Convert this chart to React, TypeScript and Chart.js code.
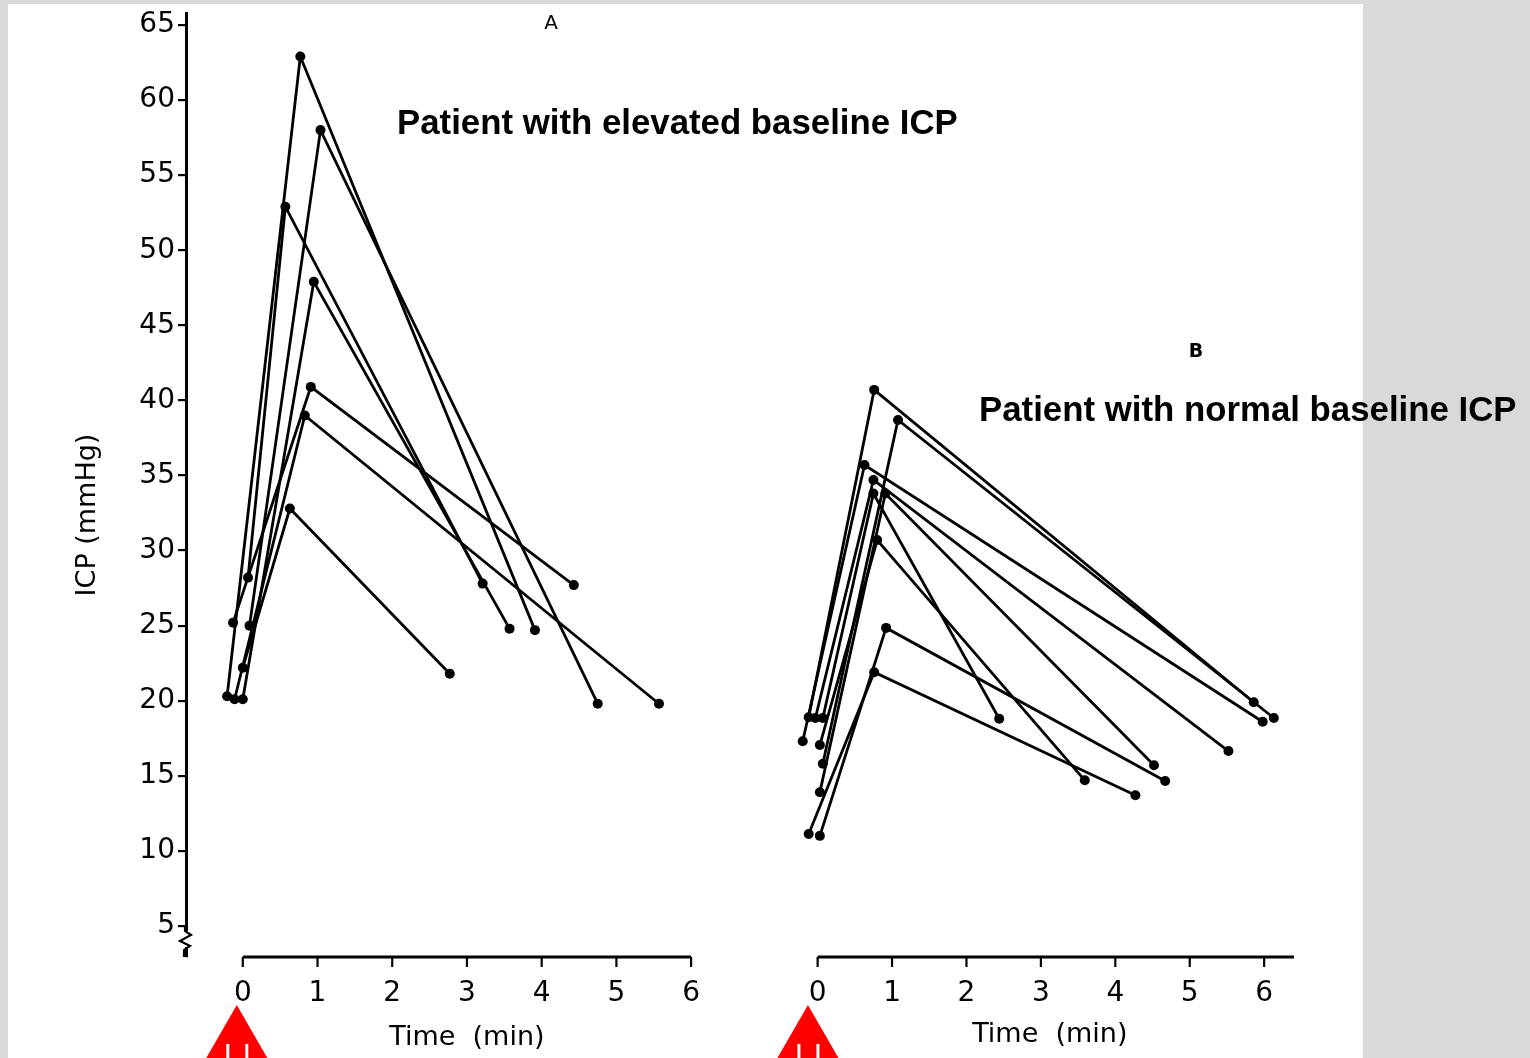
import React, { useEffect, useRef } from 'react';
import { Chart, registerables } from 'chart.js';

Chart.register(...registerables);

// ---------- data ----------
const yTicks = [5, 10, 15, 20, 25, 30, 35, 40, 45, 50, 55, 60, 65];
const xTicks = [0, 1, 2, 3, 4, 5, 6];
const xTickLabels = ['0', '1', '2', '3', '4', '5', '6'];

// Panel A: elevated baseline ICP (baseline, peak, recovery) per patient
const timesA = [
  [-0.21, 0.77, 3.91],
  [0.09, 1.04, 4.75],
  [0.07, 0.57, 3.21],
  [0.0, 0.95, 3.57],
  [-0.13, 0.91, 4.43],
  [-0.11, 0.83, 5.57],
  [0.0, 0.63, 2.77],
];
const icpA = [
  [20.3, 62.9, 24.7],
  [25.0, 58.0, 19.8],
  [28.2, 52.9, 27.8],
  [20.1, 47.9, 24.8],
  [25.2, 40.9, 27.7],
  [20.1, 39.0, 19.8],
  [22.2, 32.8, 21.8],
];

// Panel B: normal baseline ICP
const timesB = [
  [-0.12, 0.76, 5.86],
  [0.07, 1.08, 6.13],
  [-0.2, 0.63, 5.98],
  [-0.03, 0.75, 5.52],
  [0.03, 0.91, 4.52],
  [0.07, 0.75, 2.44],
  [0.03, 0.8, 3.59],
  [0.03, 0.92, 4.67],
  [-0.12, 0.76, 4.27],
];
const icpB = [
  [18.9, 40.7, 19.9],
  [15.8, 38.7, 18.85],
  [17.3, 35.7, 18.6],
  [18.85, 34.7, 16.65],
  [13.9, 33.8, 15.7],
  [18.85, 33.8, 18.8],
  [17.05, 30.7, 14.7],
  [11.0, 24.85, 14.65],
  [11.13, 21.9, 13.7],
];

const panelLabelA = 'A';
const panelLabelB = 'B';
const titleA = 'Patient with elevated baseline ICP';
const titleB = 'Patient with normal baseline ICP';
const yTitle = 'ICP (mmHg)';
const xTitle = 'Time  (min)';
const arrowTimeA = -0.08;
const arrowTimeB = -0.13;

const FONT = '"Liberation Sans", Arial, Helvetica, sans-serif';
const AXFONT = '"DejaVu Sans", Verdana, sans-serif';

const customPlugin = {
  id: 'customDecor',
  beforeDraw(chart: any) {
    const ctx = chart.ctx;
    ctx.save();
    ctx.fillStyle = '#d9d9d9';
    ctx.fillRect(0, 0, chart.width, chart.height);
    ctx.fillStyle = '#ffffff';
    ctx.fillRect(8, 4, 1355, chart.height - 4);
    ctx.restore();
  },
  afterDraw(chart: any) {
    const ctx = chart.ctx;
    const xA = chart.scales.xA;
    const xB = chart.scales.xB;
    const axisY = 957;
    ctx.save();
    ctx.strokeStyle = '#000';
    ctx.fillStyle = '#000';
    ctx.lineCap = 'butt';

    const drawAxis = (scale: any, from: number, to: number, titleAt: number, titleY: number) => {
      ctx.lineWidth = 3;
      ctx.beginPath();
      ctx.moveTo(scale.getPixelForValue(from), axisY);
      ctx.lineTo(scale.getPixelForValue(to), axisY);
      ctx.stroke();
      ctx.lineWidth = 2.2;
      xTicks.forEach((t) => {
        const px = scale.getPixelForValue(t);
        ctx.beginPath();
        ctx.moveTo(px, axisY);
        ctx.lineTo(px, axisY + 10);
        ctx.stroke();
      });
      ctx.font = `28px ${AXFONT}`;
      ctx.textAlign = 'center';
      ctx.textBaseline = 'middle';
      xTicks.forEach((t, i) => {
        ctx.fillText(xTickLabels[i], scale.getPixelForValue(t), 994);
      });
      ctx.font = `27px ${AXFONT}`;
      ctx.fillText(xTitle, scale.getPixelForValue(titleAt), titleY);
    };
    drawAxis(xA, 0, 6, 3.0, 1038);
    drawAxis(xB, 0, 6.4, 3.12, 1035);

    // y-axis break mark
    const yx = chart.scales.y.right;
    ctx.fillStyle = '#fff';
    ctx.fillRect(yx - 3, 931, 6, 16);
    ctx.strokeStyle = '#000';
    ctx.lineWidth = 2.2;
    ctx.beginPath();
    ctx.moveTo(yx - 1, 926);
    ctx.lineTo(yx - 1, 931);
    ctx.lineTo(yx + 5, 935);
    ctx.lineTo(yx - 6, 941);
    ctx.lineTo(yx + 4, 946);
    ctx.lineTo(yx - 2, 950);
    ctx.lineTo(yx - 2, 957);
    ctx.stroke();

    // y-axis title
    ctx.save();
    ctx.fillStyle = '#000';
    ctx.translate(88, 515);
    ctx.rotate(-Math.PI / 2);
    ctx.font = `27px ${AXFONT}`;
    ctx.textAlign = 'center';
    ctx.textBaseline = 'middle';
    ctx.fillText(yTitle, 0, 0);
    ctx.restore();

    // panel letters
    ctx.fillStyle = '#000';
    ctx.textAlign = 'center';
    ctx.textBaseline = 'middle';
    ctx.font = `20px ${AXFONT}`;
    ctx.fillText(panelLabelA, 551, 24);
    ctx.font = `bold 19px ${AXFONT}`;
    ctx.fillText(panelLabelB, 1196, 352);

    // annotation titles
    ctx.font = `bold 34.8px ${FONT}`;
    ctx.textAlign = 'left';
    ctx.fillText(titleA, 397, 124);
    ctx.fillText(titleB, 979, 411);

    // red arrows
    const drawArrow = (cx: number) => {
      ctx.fillStyle = '#ff0000';
      ctx.beginPath();
      ctx.moveTo(cx, 1005);
      ctx.lineTo(cx - 34, 1064);
      ctx.lineTo(cx + 34, 1064);
      ctx.closePath();
      ctx.fill();
      ctx.strokeStyle = '#ffffff';
      ctx.lineWidth = 3;
      ctx.beginPath();
      ctx.moveTo(cx - 9, 1044);
      ctx.lineTo(cx - 9, 1060);
      ctx.moveTo(cx + 10, 1044);
      ctx.lineTo(cx + 10, 1060);
      ctx.stroke();
    };
    drawArrow(xA.getPixelForValue(arrowTimeA));
    drawArrow(xB.getPixelForValue(arrowTimeB));
    ctx.restore();
  },
};

const lineStyle = {
  borderColor: '#000',
  borderWidth: 2.8,
  pointRadius: 5,
  pointBackgroundColor: '#000',
  pointBorderColor: '#000',
  pointBorderWidth: 0,
  fill: false,
  tension: 0,
};

export default function App() {
  const canvasRef = useRef<HTMLCanvasElement | null>(null);

  useEffect(() => {
    const canvas = canvasRef.current;
    if (!canvas) return;
    const datasets: any[] = [
      ...timesA.map((ts, i) => ({
        label: `A${i + 1}`,
        data: ts.map((t, j) => ({ x: t, y: icpA[i][j] })),
        xAxisID: 'xA',
        yAxisID: 'y',
        ...lineStyle,
      })),
      ...timesB.map((ts, i) => ({
        label: `B${i + 1}`,
        data: ts.map((t, j) => ({ x: t, y: icpB[i][j] })),
        xAxisID: 'xB',
        yAxisID: 'y',
        ...lineStyle,
      })),
    ];
    const chart = new Chart(canvas, {
      type: 'line',
      data: { datasets },
      options: {
        animation: false,
        responsive: false,
        devicePixelRatio: 1,
        layout: { padding: { top: 13, bottom: 102, left: 0, right: 0 } },
        plugins: {
          legend: { display: false },
          tooltip: { enabled: false },
        },
        scales: {
          xA: { type: 'linear', display: false, min: -0.76, max: 17.16 },
          xB: { type: 'linear', display: false, min: -8.487, max: 9.505 },
          y: {
            type: 'linear',
            position: 'left',
            min: 3,
            max: 65.8,
            afterBuildTicks: (s: any) => {
              s.ticks = yTicks.map((v) => ({ value: v }));
            },
            afterFit: (s: any) => {
              s.width = 186;
              s.paddingTop = 0;
              s.paddingBottom = 0;
            },
            ticks: {
              color: '#000',
              padding: 3,
              font: { family: AXFONT, size: 28 },
              callback: (v: any) => String(v),
            },
            grid: {
              drawOnChartArea: false,
              drawTicks: true,
              tickLength: 8,
              color: '#000',
              lineWidth: 2.2,
            },
            border: { display: true, color: '#000', width: 3 },
          },
        },
      } as any,
      plugins: [customPlugin],
    });
    return () => chart.destroy();
  }, []);

  return (
    <div style={{ position: 'absolute', left: 0, top: 0, width: 1530, height: 1058 }}>
      <canvas ref={canvasRef} width={1530} height={1058} style={{ display: 'block' }} />
    </div>
  );
}
